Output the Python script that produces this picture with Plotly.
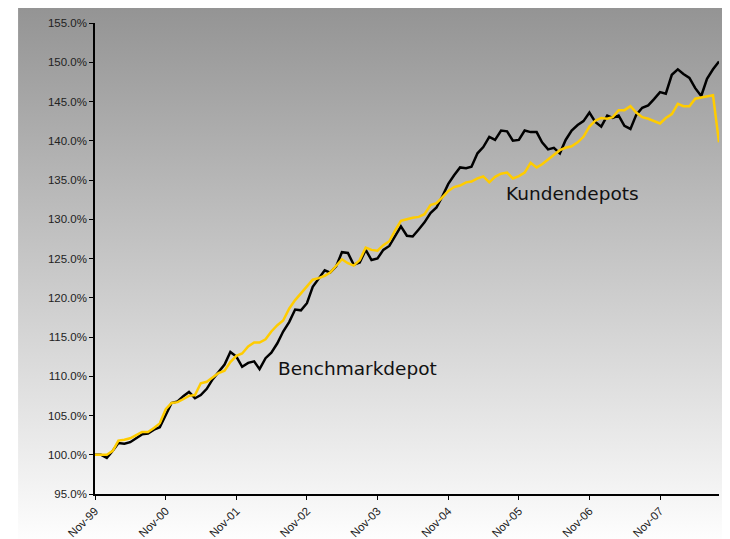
import base64
import pandas as pd
import plotly.graph_objects as go

# Monthly dates Nov-1999 .. Sep-2008
dates = pd.date_range("1999-11-01", periods=107, freq="MS")

benchmarkdepot = [
    100.0, 100.0, 99.6, 100.5, 101.5, 101.4, 101.6, 102.1, 102.6, 102.7,
    103.2, 103.5, 105.0, 106.6, 106.8, 107.5, 108.0, 107.2, 107.6, 108.4,
    109.6, 110.5, 111.5, 113.1, 112.5, 111.2, 111.7, 111.9, 110.9, 112.3,
    113.0, 114.2, 115.7, 116.9, 118.5, 118.4, 119.3, 121.4, 122.4, 123.5,
    123.2, 124.0, 125.8, 125.7, 124.2, 124.5, 126.1, 124.8, 125.0, 126.1,
    126.6, 127.9, 129.1, 127.9, 127.8, 128.7, 129.6, 130.8, 131.5, 132.9,
    134.5, 135.6, 136.6, 136.5, 136.7, 138.4, 139.2, 140.5, 140.1, 141.3,
    141.2, 140.0, 140.1, 141.3, 141.1, 141.1, 139.8, 138.9, 139.1, 138.4,
    140.1, 141.3, 142.0, 142.5, 143.6, 142.4, 141.8, 143.2, 142.9, 143.2,
    141.9, 141.5, 143.3, 144.2, 144.5, 145.3, 146.2, 146.0, 148.4, 149.1,
    148.5, 148.0, 146.7, 145.7, 147.9, 149.1, 150.1,
]

kundendepots = [
    100.0, 100.0, 100.0, 100.5, 101.8, 101.9, 102.1, 102.5, 102.9, 102.9,
    103.4, 104.0, 105.8, 106.6, 106.7, 107.1, 107.5, 107.6, 109.1, 109.3,
    109.9, 110.4, 110.7, 111.8, 112.6, 112.9, 113.8, 114.3, 114.3, 114.7,
    115.7, 116.5, 117.1, 118.6, 119.7, 120.6, 121.4, 122.3, 122.5, 122.8,
    123.2, 124.0, 124.9, 124.4, 124.1, 124.8, 126.4, 126.1, 126.0, 126.7,
    127.2, 128.6, 129.8, 130.0, 130.2, 130.3, 130.65, 131.8, 132.05, 132.8,
    133.6, 134.1, 134.3, 134.7, 134.8, 135.2, 135.45, 134.7, 135.4, 135.8,
    135.95, 135.2, 135.5, 135.95, 137.2, 136.6, 137.0, 137.6, 138.2, 138.8,
    139.1, 139.3, 139.8, 140.5, 141.8, 142.55, 142.9, 142.8, 143.0, 143.9,
    143.9, 144.4, 143.6, 143.0, 142.8, 142.5, 142.2, 142.9, 143.4, 144.7,
    144.4, 144.4, 145.35, 145.5, 145.65, 145.8, 139.8,
]

y_ticks = [95, 100, 105, 110, 115, 120, 125, 130, 135, 140, 145, 150, 155]

# gradient background as an SVG image
svg = (
    '<svg xmlns="http://www.w3.org/2000/svg" width="100" height="100" preserveAspectRatio="none">'
    '<defs><linearGradient id="g" x1="0" y1="0" x2="0" y2="1">'
    '<stop offset="0" stop-color="#939393"/>'
    '<stop offset="1" stop-color="#ffffff"/>'
    '</linearGradient></defs>'
    '<rect width="100" height="100" fill="url(#g)"/></svg>'
)
src = "data:image/svg+xml;base64," + base64.b64encode(svg.encode()).decode()

fig = go.Figure()
fig.add_trace(go.Scatter(x=dates, y=[v / 100 for v in benchmarkdepot], mode="lines",
                         line=dict(color="#000000", width=2.5), name="Benchmarkdepot"))
fig.add_trace(go.Scatter(x=dates, y=[v / 100 for v in kundendepots], mode="lines",
                         line=dict(color="#FFCC00", width=2.5), name="Kundendepots"))

OFF = 8  # page body margin
W, H = 722, 531
L, T = 95 - OFF, 23.3 - OFF
R = W - (719.3 - OFF)
B = H - (494 - OFF)
pw, ph = W - L - R, H - T - B


def px_x(px):
    return (px - OFF - L) / pw


def px_y(py):
    return (H - B - (py - OFF)) / ph


gx0, gx1 = px_x(18), px_x(738)
gy_top, gy_bot = px_y(3), px_y(547)

fig.add_layout_image(dict(source=src, xref="paper", yref="paper",
                          x=gx0, y=gy_top, sizex=gx1 - gx0, sizey=gy_top - gy_bot,
                          xanchor="left", yanchor="top", sizing="stretch", layer="below"))

fig.add_annotation(text="Benchmarkdepot", xref="paper", yref="paper",
                   x=px_x(276), y=px_y(369), xanchor="left", yanchor="middle",
                   showarrow=False, font=dict(family="DejaVu Sans", size=18.5, color="#111111"))
fig.add_annotation(text="Kundendepots", xref="paper", yref="paper",
                   x=px_x(504), y=px_y(194), xanchor="left", yanchor="middle",
                   showarrow=False, font=dict(family="DejaVu Sans", size=18.5, color="#111111"))

fig.update_layout(
    width=W, height=H,
    margin=dict(l=L, r=R, t=T, b=B, autoexpand=False),
    paper_bgcolor="#ffffff",
    plot_bgcolor="rgba(0,0,0,0)",
    showlegend=False,
    font=dict(family="Liberation Sans, Arial", size=11.5, color="#222222"),
)
fig.update_xaxes(
    type="date",
    automargin=False,
    range=[dates[0], dates[-1]],
    tick0="1999-11-01", dtick="M12", tickformat="%b-%y",
    tickangle=-45,
    showgrid=False, zeroline=False,
    showline=True, linecolor="#000000", linewidth=1.5,
    ticks="outside", ticklen=4, tickwidth=1, tickcolor="#000000",
)
fig.update_yaxes(
    automargin=False,
    range=[0.95, 1.55],
    tickvals=[v / 100 for v in y_ticks],
    tickformat=".1%",
    showgrid=False, zeroline=False,
    showline=True, linecolor="#000000", linewidth=1.5,
    ticks="outside", ticklen=4, tickwidth=1, tickcolor="#000000",
)

fig.write_html("out.html")
